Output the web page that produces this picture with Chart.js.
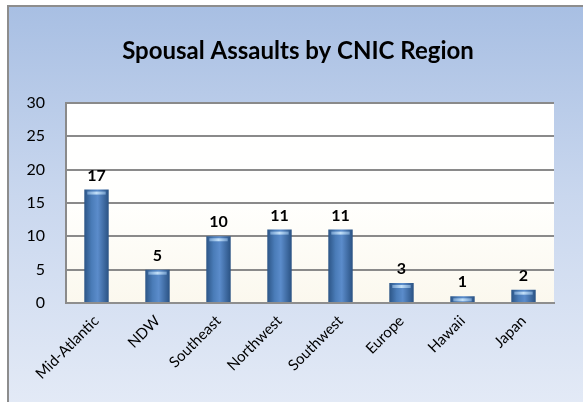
<!DOCTYPE html>
<html>
<head>
<meta charset="utf-8">
<script src="https://cdn.jsdelivr.net/npm/chart.js@4.4.1/dist/chart.umd.min.js"></script>
<style>
    body { margin: 0; background: #fff; }
    #frame {
        position: absolute; left: 7px; top: 5px; width: 600px; height: 420px;
        border: 2px solid #8d8d8d;
        background: linear-gradient(#a8bfe3, #c9d7ee 45%, #e6ecf7);
    }
    #wrap { position: absolute; left: 0; top: 0; width: 583px; height: 402px; }
</style>
</head>
<body>
<div id="frame"></div>
<div id="wrap"><canvas id="myChart" width="583" height="402"></canvas></div>
<script>
/*----------------------------- data -------------------------------------------------*/
const regions = ['Mid-Atlantic', 'NDW', 'Southeast', 'Northwest', 'Southwest', 'Europe', 'Hawaii', 'Japan'];
const assaults = [17, 5, 10, 11, 11, 3, 1, 2];
const yMax = 30;
const yStep = 5;

const font = 'Lato, "Open Sans", sans-serif';

/*----------------------------- plugins -------------------------------------------------*/
// white plot area
const plotBg = {
    id: 'plotBg',
    beforeDraw(chart) {
        const { ctx, chartArea: a } = chart;
        ctx.save();
        let g = ctx.createLinearGradient(0, a.top, 0, a.bottom);
        g.addColorStop(0, '#ffffff');
        g.addColorStop(0.5, '#fffffd');
        g.addColorStop(1, '#fbf8ee');
        ctx.fillStyle = g;
        ctx.fillRect(a.left, a.top, a.right - a.left, a.bottom - a.top);
        ctx.restore();
    }
};

// title sits a bit right of the canvas centre in the original
const titleShift = {
    id: 'titleShift',
    afterLayout(chart) {
        if (chart.titleBlock) {
            chart.titleBlock.left += 21;
            chart.titleBlock.right += 21;
        }
    }
};

// light cap on top of each bar + value labels
const barExtras = {
    id: 'barExtras',
    afterDatasetsDraw(chart) {
        const { ctx } = chart;
        const meta = chart.getDatasetMeta(0);
        ctx.save();
        meta.data.forEach((bar, i) => {
            const w = bar.width;
            const left = bar.x - w / 2;
            let g = ctx.createLinearGradient(left, 0, left + w, 0);
            g.addColorStop(0, 'rgba(120,165,215,0.6)');
            g.addColorStop(0.5, 'rgba(200,228,250,0.95)');
            g.addColorStop(1, 'rgba(120,165,215,0.6)');
            ctx.fillStyle = g;
            ctx.fillRect(left + 3, bar.y + 2, w - 6, 3);

            ctx.fillStyle = '#000';
            ctx.font = 'bold 16px ' + font;
            ctx.textAlign = 'center';
            ctx.textBaseline = 'bottom';
            ctx.fillText(assaults[i], bar.x, bar.y - 6);
        });
        ctx.restore();
    }
};

function barFill(context) {
    const chart = context.chart;
    const xs = chart.scales.x;
    if (!chart.chartArea || !xs) return '#3f6fa8';
    const cx = xs.getPixelForValue(context.dataIndex);
    const w = (chart.chartArea.right - chart.chartArea.left) / regions.length * 0.4;
    if (!Number.isFinite(cx) || !Number.isFinite(w)) return '#3f6fa8';
    const left = cx - w / 2;
    let g = chart.ctx.createLinearGradient(left, 0, left + w, 0);
    g.addColorStop(0, '#2c5586');
    g.addColorStop(0.3, '#4a7cb8');
    g.addColorStop(0.55, '#5b8ccb');
    g.addColorStop(1, '#2a5283');
    return g;
}

/*----------------------------- chart -------------------------------------------------*/
let myChart = document.getElementById('myChart').getContext('2d');

let regionChart = new Chart(myChart, {
    type: 'bar',
    data: {
        labels: regions,
        datasets: [{
            label: 'Spousal Assaults',
            data: assaults,
            backgroundColor: barFill,
            borderWidth: 0,
            categoryPercentage: 1,
            barPercentage: 0.4
        }]
    },
    options: {
        responsive: false,
        animation: false,
        layout: {
            padding: { left: 0, right: 29, top: 0, bottom: 0 }
        },
        scales: {
            x: {
                grid: { display: false, drawTicks: false },
                border: { color: '#8e8e8e', width: 2 },
                ticks: {
                    color: '#000',
                    font: { family: font, size: 15 },
                    minRotation: 45,
                    maxRotation: 45,
                    padding: 9
                },
                afterFit(s) { s.height = 99; }
            },
            y: {
                min: 0,
                max: yMax,
                grid: { color: '#8a8a8a', lineWidth: 2, drawTicks: false },
                border: { color: '#8a8a8a', width: 2 },
                ticks: {
                    stepSize: yStep,
                    color: '#000',
                    font: { family: font, size: 16 },
                    padding: 21
                },
                afterFit(s) { s.width = 66; }
            }
        },
        plugins: {
            legend: { display: false },
            tooltip: { enabled: false },
            title: {
                display: true,
                text: 'Spousal Assaults by CNIC Region',
                color: '#000',
                font: { family: font, size: 24, weight: 'bold' },
                padding: { top: 37, bottom: 37 }
            }
        }
    },
    plugins: [plotBg, titleShift, barExtras]
});
</script>
</body>
</html>
